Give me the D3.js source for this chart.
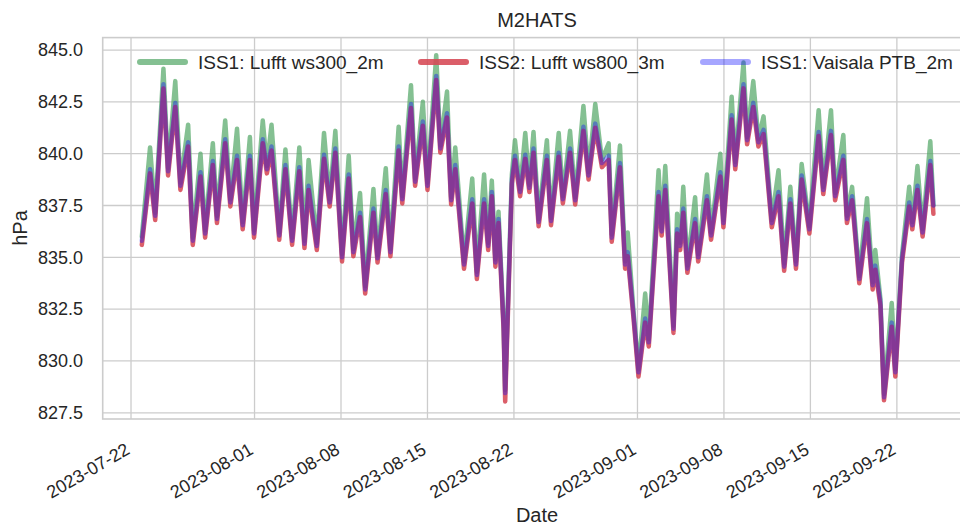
<!DOCTYPE html>
<html>
<head>
<meta charset="utf-8">
<script src="https://cdn.jsdelivr.net/npm/d3@7"></script>
<style>
  body { margin: 0; background: #fff; }
  svg { display: block; }
  text { font-family: "Liberation Sans", Arial, sans-serif; fill: #262626; }
</style>
</head>
<body>
<svg id="chart" width="960" height="527"></svg>
<script>
// Station pressure at the M2HATS site (hPa), sampled at the daily highs and lows (UTC)
const times = [
  "2023-07-22T21","2023-07-23T13","2023-07-23T23","2023-07-24T15","2023-07-25T00","2023-07-25T14","2023-07-26T00","2023-07-26T15",
  "2023-07-27T00","2023-07-27T15","2023-07-28T00","2023-07-28T15","2023-07-28T23","2023-07-29T15","2023-07-30T01","2023-07-30T14",
  "2023-07-31T01","2023-07-31T15","2023-07-31T23","2023-08-01T16","2023-08-02T00","2023-08-02T09","2023-08-03T00","2023-08-03T12",
  "2023-08-04T01","2023-08-04T15","2023-08-05T01","2023-08-05T09","2023-08-06T01","2023-08-06T15","2023-08-07T02","2023-08-07T13",
  "2023-08-08T02","2023-08-08T15","2023-08-09T00","2023-08-09T13","2023-08-09T23","2023-08-10T15","2023-08-10T23","2023-08-11T15",
  "2023-08-12T00","2023-08-12T16","2023-08-12T23","2023-08-13T16","2023-08-14T00","2023-08-14T15","2023-08-15T00","2023-08-15T17",
  "2023-08-16T01","2023-08-16T14","2023-08-16T22","2023-08-17T06","2023-08-17T23","2023-08-18T15","2023-08-19T00","2023-08-19T14",
  "2023-08-19T22","2023-08-20T05","2023-08-20T12","2023-08-20T18","2023-08-21T04","2023-08-21T07","2023-08-21T20","2023-08-22T02",
  "2023-08-22T12","2023-08-22T22","2023-08-23T06","2023-08-23T14","2023-08-24T00","2023-08-24T16","2023-08-25T00","2023-08-25T15",
  "2023-08-25T23","2023-08-26T13","2023-08-26T23","2023-08-27T15","2023-08-28T01","2023-08-28T14","2023-08-29T03","2023-08-29T16",
  "2023-08-29T22","2023-08-30T14","2023-08-31T00","2023-08-31T05","2023-08-31T16","2023-09-01T02","2023-09-01T15","2023-09-01T22",
  "2023-09-02T17","2023-09-02T23","2023-09-03T06","2023-09-03T22","2023-09-04T05","2023-09-04T11","2023-09-04T17","2023-09-05T01",
  "2023-09-05T16","2023-09-05T22","2023-09-06T15","2023-09-06T23","2023-09-07T17","2023-09-07T23","2023-09-08T15","2023-09-08T22",
  "2023-09-09T14","2023-09-09T21","2023-09-10T09","2023-09-10T19","2023-09-11T05","2023-09-11T21","2023-09-12T10","2023-09-12T21",
  "2023-09-13T09","2023-09-13T20","2023-09-14T07","2023-09-14T22","2023-09-15T16","2023-09-16T01","2023-09-16T16","2023-09-17T00",
  "2023-09-17T16","2023-09-17T23","2023-09-18T09","2023-09-18T23","2023-09-19T14","2023-09-20T01","2023-09-20T06","2023-09-20T16",
  "2023-09-20T23","2023-09-21T14","2023-09-21T21","2023-09-22T10","2023-09-23T00","2023-09-23T06","2023-09-23T16","2023-09-24T02",
  "2023-09-24T17","2023-09-24T23"
];

// ISS1: Lufft ws300 at 2 m
const ws300 = [
  836.0,840.3,837.15,844.1,839.3,843.5,838.6,841.4, 835.95,840.0,836.3,840.5,837.0,841.6,837.8,841.2,
  836.7,840.8,836.3,841.6,839.4,841.4,836.2,840.2, 835.95,840.3,835.8,839.7,835.7,841.0,837.8,841.1,
  835.15,839.9,835.4,838.1,833.6,838.3,835.1,839.3, 835.4,841.3,837.95,843.3,838.8,842.5,838.6,844.75,
  840.4,843.0,837.9,840.3,834.8,838.8,834.3,839.0, 835.7,838.7,834.9,837.2,831.8,828.6,839.0,840.65,
  838.3,841.0,838.5,841.05,836.85,840.65,836.9,841.0, 837.95,841.1,837.9,842.3,839.1,842.4,839.7,840.5,
  836.1,840.4,834.8,836.2,832.5,829.6,833.25,831.05, 839.2,836.4,839.4,831.7,837.1,835.7,838.4,834.6,
  837.9,835.15,839.0,836.2,840.0,836.8,842.75,839.6, 844.4,840.8,843.5,840.7,841.8,836.8,839.2,834.7,
  838.4,834.8,839.5,836.5,842.1,838.4,842.1,838.1, 840.9,837.0,838.4,834.1,837.85,833.8,835.35,833.0,
  828.4,832.8,829.6,835.1,838.4,836.7,839.4,836.35, 840.6,837.5
];

// ISS2: Lufft ws800 at 3 m
const ws800 = [
  835.6,839.05,836.8,843.15,838.95,842.25,838.25,840.35, 835.6,838.9,835.95,839.45,836.65,840.5,837.45,839.7,
  836.35,839.7,835.95,840.5,839.05,840.15,835.85,839.25, 835.6,839.15,835.45,838.25,835.35,839.75,837.45,840.05,
  834.8,838.8,835.05,836.95,833.25,837.15,834.75,838.05, 835.05,840.15,837.6,842.2,838.45,841.35,838.25,843.55,
  840.05,841.75,837.55,839.25,834.45,837.6,833.95,837.6, 835.35,837.95,834.55,836.65,831.45,828.05,838.55,839.7,
  837.95,839.75,838.15,840.05,836.5,839.7,836.55,839.85, 837.6,840.05,837.55,841.1,838.75,841.25,839.35,839.7,
  835.75,839.35,834.45,835.05,832.15,829.25,831.85,830.7, 837.95,836.05,838.25,831.35,836.15,835.35,837.15,834.25,
  836.65,834.8,837.75,835.85,838.9,836.45,841.65,839.25, 843.15,840.45,842.25,840.35,840.95,836.45,837.95,834.35,
  837.6,834.45,838.75,836.15,840.85,838.05,840.9,837.75, 839.7,836.65,837.75,833.75,836.65,833.45,834.4,832.65,
  828.1,831.65,829.25,834.75,837.45,836.35,838.25,836.0, 839.45,837.1
];

// ISS1: Vaisala PTB at 2 m
const ptb = [
  835.8,839.25,837.0,843.35,839.15,842.45,838.45,840.55, 835.8,839.1,836.15,839.65,836.85,840.7,837.65,839.9,
  836.55,839.9,836.15,840.7,839.25,840.35,836.05,839.45, 835.8,839.35,835.65,838.45,835.55,839.95,837.65,840.25,
  835.0,839.0,835.25,837.15,833.45,837.35,834.95,838.25, 835.25,840.35,837.8,842.4,838.65,841.55,838.45,843.75,
  840.25,841.95,837.75,839.45,834.65,837.8,834.15,837.8, 835.55,838.15,834.75,836.85,831.65,828.45,838.75,839.9,
  838.15,839.95,838.35,840.25,836.7,839.9,836.75,840.05, 837.8,840.25,837.75,841.3,838.95,841.45,839.55,839.9,
  835.95,839.55,834.65,835.25,832.35,829.45,832.05,830.9, 838.15,836.25,838.45,831.55,836.35,835.55,837.35,834.45,
  836.85,835.0,837.95,836.05,839.1,836.65,841.85,839.45, 843.35,840.65,842.45,840.55,841.15,836.65,838.15,834.55,
  837.8,834.65,838.95,836.35,841.05,838.25,841.1,837.95, 839.9,836.85,837.95,833.95,836.85,833.65,834.6,832.85,
  828.25,831.85,829.45,834.95,837.65,836.55,838.45,836.2, 839.65,837.5
];

const seriesNames = ["ISS1: Lufft ws300_2m", "ISS2: Lufft ws800_3m", "ISS1: Vaisala PTB_2m"];
const seriesColors = ["rgba(85,168,104,0.72)", "rgba(214,72,84,0.88)", "rgba(0,0,255,0.35)"];

const xTickLabels = ["2023-07-22","2023-08-01","2023-08-08","2023-08-15","2023-08-22",
                     "2023-09-01","2023-09-08","2023-09-15","2023-09-22"];
const yTickValues = [827.5, 830.0, 832.5, 835.0, 837.5, 840.0, 842.5, 845.0];

// ---- layout ----
const plot = { left: 102.7, right: 971.5, top: 37.6, bottom: 419 };
const parseTime = d3.utcParse("%Y-%m-%dT%H");
const parseDay = d3.utcParse("%Y-%m-%d");

const x = d3.scaleUtc()
  .domain([parseTime("2023-07-19T17"), parseTime("2023-09-28T01")])
  .range([plot.left, plot.right]);
const y = d3.scaleLinear()
  .domain([827.2, 845.6])
  .range([plot.bottom, plot.top]);

const svg = d3.select("#chart");

svg.append("defs").append("clipPath").attr("id", "plotClip")
  .append("rect")
  .attr("x", plot.left).attr("y", plot.top)
  .attr("width", plot.right - plot.left).attr("height", plot.bottom - plot.top);

// grid
const grid = svg.append("g").attr("stroke", "#cccccc").attr("stroke-width", 1.3);
grid.selectAll("line.gx").data(xTickLabels).join("line")
  .attr("x1", d => x(parseDay(d))).attr("x2", d => x(parseDay(d)))
  .attr("y1", plot.top).attr("y2", plot.bottom);
grid.selectAll("line.gy").data(yTickValues).join("line")
  .attr("x1", plot.left).attr("x2", plot.right)
  .attr("y1", d => y(d)).attr("y2", d => y(d));

// frame
svg.append("rect")
  .attr("x", plot.left).attr("y", plot.top)
  .attr("width", plot.right - plot.left).attr("height", plot.bottom - plot.top)
  .attr("fill", "none").attr("stroke", "#cccccc").attr("stroke-width", 1.6);

// series
const dates = times.map(parseTime);
const series = [ws300, ws800, ptb];
const line = d3.line().x(d => x(d[0])).y(d => y(d[1]));

svg.append("g").attr("clip-path", "url(#plotClip)")
  .selectAll("path").data(series).join("path")
  .attr("d", vals => line(vals.map((v, i) => [dates[i], v])))
  .attr("fill", "none")
  .attr("stroke", (d, i) => seriesColors[i])
  .attr("stroke-width", 4.5)
  .attr("stroke-linejoin", "round")
  .attr("stroke-linecap", "round");

// y tick labels
svg.append("g").selectAll("text").data(yTickValues).join("text")
  .attr("x", 83).attr("y", d => y(d)).attr("dy", "0.35em")
  .attr("text-anchor", "end").attr("font-size", 18)
  .text(d3.format(".1f"));

// x tick labels, rotated
svg.append("g").selectAll("text").data(xTickLabels).join("text")
  .attr("transform", d => `translate(${x(parseDay(d))},453) rotate(-30)`)
  .attr("text-anchor", "end").attr("font-size", 18)
  .text(d => d);

// titles
svg.append("text").attr("x", 537).attr("y", 27).attr("text-anchor", "middle")
  .attr("font-size", 20).text("M2HATS");
svg.append("text").attr("x", 537).attr("y", 522).attr("text-anchor", "middle")
  .attr("font-size", 20).text("Date");
svg.append("text").attr("transform", "translate(27,228) rotate(-90)")
  .attr("text-anchor", "middle").attr("font-size", 20).text("hPa");

// legend
const legendX = [140, 421, 703];
const legend = svg.append("g").selectAll("g").data(seriesNames).join("g")
  .attr("transform", (d, i) => `translate(${legendX[i]},62)`);
legend.append("line")
  .attr("x1", 0).attr("x2", 45).attr("y1", 0).attr("y2", 0)
  .attr("stroke", (d, i) => seriesColors[i])
  .attr("stroke-width", 6).attr("stroke-linecap", "round");
legend.append("text")
  .attr("x", 58).attr("y", 0).attr("dy", "0.36em")
  .attr("font-size", 19).text(d => d);
</script>
</body>
</html>
